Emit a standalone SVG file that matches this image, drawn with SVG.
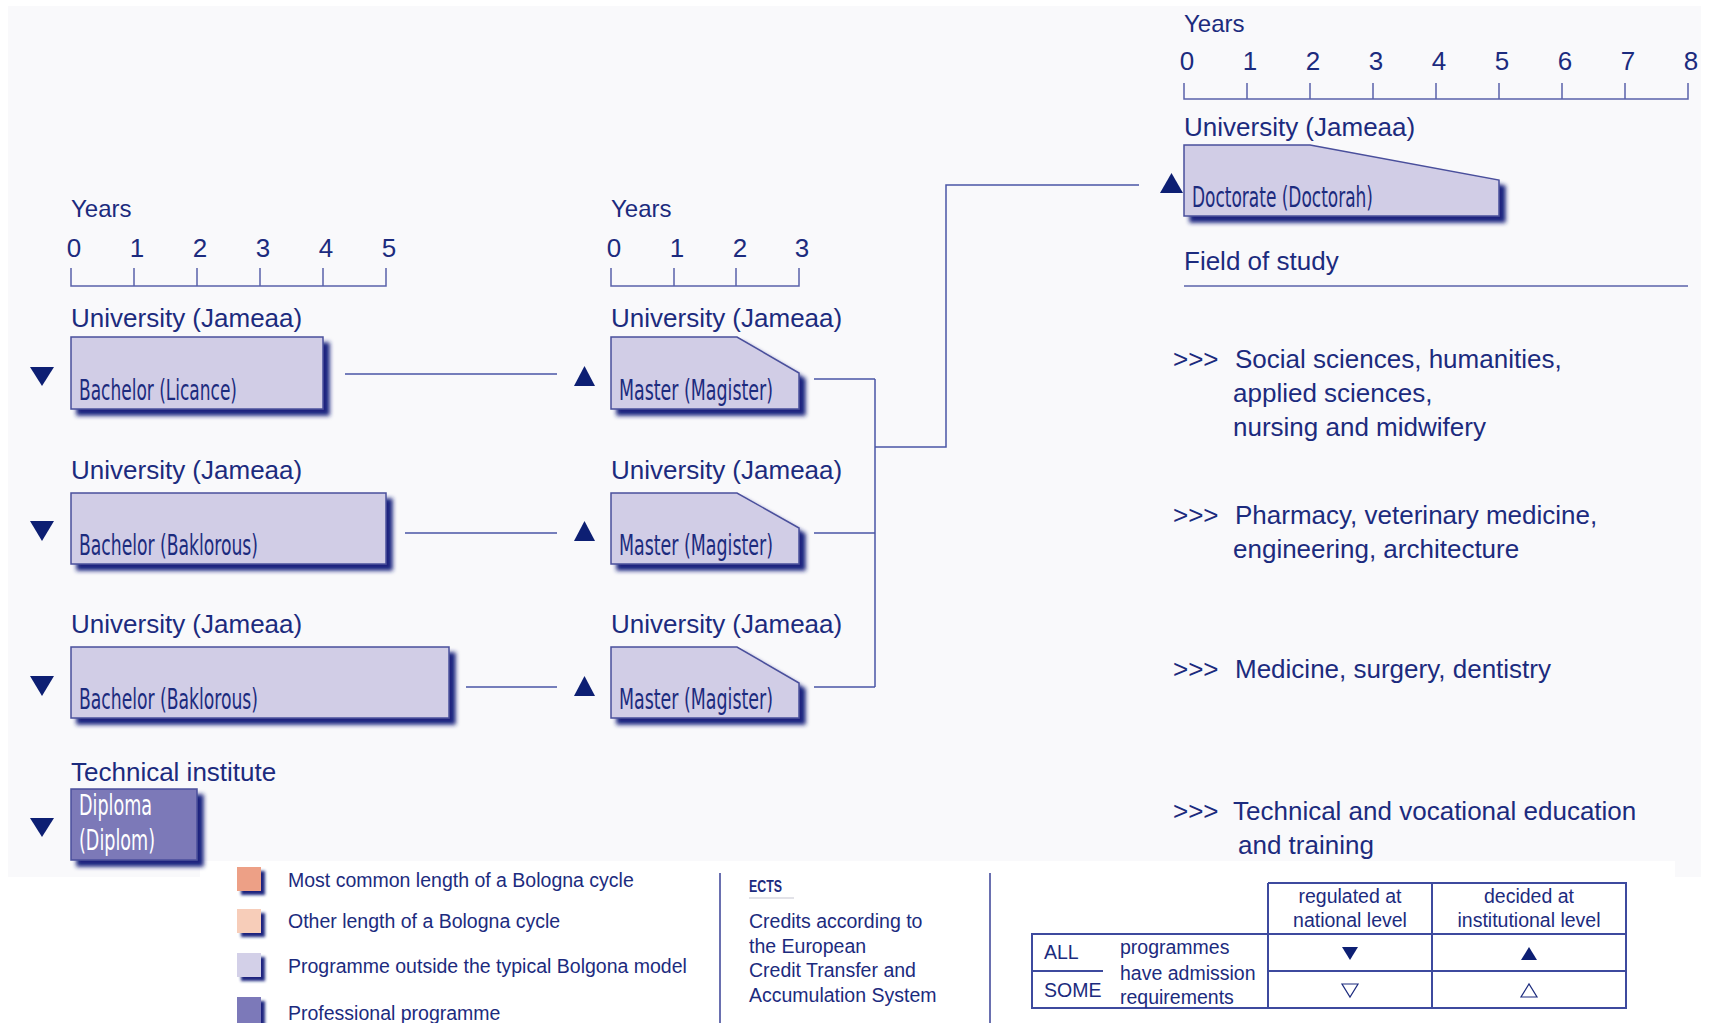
<svg xmlns="http://www.w3.org/2000/svg" width="1709" height="1023" viewBox="0 0 1709 1023">
<defs>
<style>
.t{font-family:"Liberation Sans",Arial,sans-serif;fill:#1c2b7e}
.lg{font-size:26px}
.md{font-size:19.5px}
.nar{font-family:"Liberation Sans Narrow","DejaVu Sans Condensed","Liberation Sans",sans-serif;font-size:28px;fill:#1c2b7e}
.box{fill:#d1cde6;stroke:#4a4f9c;stroke-width:1.5}
.pro{fill:#7c79b8;stroke:#4a4f9c;stroke-width:1.5}
.ax{fill:none;stroke:#5a62aa;stroke-width:1.5}
.cn{fill:none;stroke:#4a55a6;stroke-width:1.5}
.tri{fill:#0d1f73}
.tb{fill:none;stroke:#3d4a9e;stroke-width:2}
.dv{stroke:#6a70b0;stroke-width:2}
</style>
<filter id="sh" x="-10%" y="-10%" width="130%" height="140%">
<feGaussianBlur in="SourceAlpha" stdDeviation="2"/>
<feOffset dx="6" dy="6" result="b"/>
<feFlood flood-color="#1a237e"/>
<feComposite in2="b" operator="in"/>
<feMerge><feMergeNode/><feMergeNode in="SourceGraphic"/></feMerge>
</filter>
<filter id="sh2" x="-20%" y="-20%" width="160%" height="160%">
<feGaussianBlur in="SourceAlpha" stdDeviation="1.5"/>
<feOffset dx="4" dy="4" result="b"/>
<feFlood flood-color="#1a237e"/>
<feComposite in2="b" operator="in"/>
<feMerge><feMergeNode/><feMergeNode in="SourceGraphic"/></feMerge>
</filter>
</defs>
<rect x="0" y="0" width="1709" height="1023" fill="#ffffff"/>
<rect x="8" y="6" width="1693" height="871" fill="#f9f9fb"/>
<rect x="200" y="861" width="1475" height="162" fill="#ffffff"/>

<!-- axes -->
<g id="axis-left">
<text class="t" x="71" y="217" font-size="24">Years</text>
<g class="t lg" text-anchor="middle">
<text x="74" y="257">0</text><text x="137" y="257">1</text><text x="200" y="257">2</text><text x="263" y="257">3</text><text x="326" y="257">4</text><text x="389" y="257">5</text>
</g>
<path class="ax" d="M71,268V286H386V268M134,268V286M197,268V286M260,268V286M323,268V286"/>
</g>
<g id="axis-mid">
<text class="t" x="611" y="217" font-size="24">Years</text>
<g class="t lg" text-anchor="middle">
<text x="614" y="257">0</text><text x="677" y="257">1</text><text x="740" y="257">2</text><text x="802" y="257">3</text>
</g>
<path class="ax" d="M611,268V286H799V268M674,268V286M736,268V286"/>
</g>
<g id="axis-top">
<text class="t" x="1184" y="32" font-size="24">Years</text>
<g class="t lg" text-anchor="middle">
<text x="1187" y="70">0</text><text x="1250" y="70">1</text><text x="1313" y="70">2</text><text x="1376" y="70">3</text><text x="1439" y="70">4</text><text x="1502" y="70">5</text><text x="1565" y="70">6</text><text x="1628" y="70">7</text><text x="1691" y="70">8</text>
</g>
<path class="ax" d="M1184,83V99H1688V83M1247,83V99M1310,83V99M1373,83V99M1436,83V99M1499,83V99M1562,83V99M1625,83V99"/>
</g>

<!-- connectors -->
<g id="connectors">
<path class="cn" d="M345,374H557M405,533H557M466,687H557"/>
<path class="cn" d="M814,379H875M814,533H875M814,687H875M875,379V687M875,447H946V185H1139"/>
</g>

<!-- nodes -->
<g id="bachelor-licance">
<text class="t lg" x="71" y="327">University (Jameaa)</text>
<polygon class="tri" points="30,367 54,367 42,386"/>
<rect class="box" x="71" y="337" width="252" height="72" filter="url(#sh)"/>
<text class="nar" x="79" y="400" textLength="158" lengthAdjust="spacingAndGlyphs">Bachelor (Licance)</text>
</g>
<g id="bachelor-baklorous-5">
<text class="t lg" x="71" y="479">University (Jameaa)</text>
<polygon class="tri" points="30,521 54,521 42,541"/>
<rect class="box" x="71" y="493" width="315" height="71" filter="url(#sh)"/>
<text class="nar" x="79" y="555" textLength="179" lengthAdjust="spacingAndGlyphs">Bachelor (Baklorous)</text>
</g>
<g id="bachelor-baklorous-6">
<text class="t lg" x="71" y="633">University (Jameaa)</text>
<polygon class="tri" points="30,676 54,676 42,696"/>
<rect class="box" x="71" y="647" width="378" height="71" filter="url(#sh)"/>
<text class="nar" x="79" y="709" textLength="179" lengthAdjust="spacingAndGlyphs">Bachelor (Baklorous)</text>
</g>
<g id="diploma">
<text class="t lg" x="71" y="781">Technical institute</text>
<polygon class="tri" points="30,818 54,818 42,837"/>
<rect class="pro" x="71" y="789" width="126" height="71" filter="url(#sh)"/>
<text class="nar" x="79" y="815" style="fill:#ffffff" textLength="73" lengthAdjust="spacingAndGlyphs">Diploma</text>
<text class="nar" x="79" y="850" style="fill:#ffffff" textLength="76" lengthAdjust="spacingAndGlyphs">(Diplom)</text>
</g>
<g id="master-1">
<text class="t lg" x="611" y="327">University (Jameaa)</text>
<polygon class="tri" points="574,386 595,386 584.5,366"/>
<polygon class="box" points="611,337 737,337 799,373 799,409 611,409" filter="url(#sh)"/>
<text class="nar" x="619" y="400" textLength="154" lengthAdjust="spacingAndGlyphs">Master (Magister)</text>
</g>
<g id="master-2">
<text class="t lg" x="611" y="479">University (Jameaa)</text>
<polygon class="tri" points="574,541 595,541 584.5,521"/>
<polygon class="box" points="611,493 737,493 799,528 799,564 611,564" filter="url(#sh)"/>
<text class="nar" x="619" y="555" textLength="154" lengthAdjust="spacingAndGlyphs">Master (Magister)</text>
</g>
<g id="master-3">
<text class="t lg" x="611" y="633">University (Jameaa)</text>
<polygon class="tri" points="574,696 595,696 584.5,676"/>
<polygon class="box" points="611,647 737,647 799,683 799,718 611,718" filter="url(#sh)"/>
<text class="nar" x="619" y="709" textLength="154" lengthAdjust="spacingAndGlyphs">Master (Magister)</text>
</g>
<g id="doctorate">
<text class="t lg" x="1184" y="136">University (Jameaa)</text>
<polygon class="tri" points="1160,193 1183,193 1171.5,173"/>
<polygon class="box" points="1184,145 1310,145 1499,180 1499,216 1184,216" filter="url(#sh)"/>
<text class="nar" x="1192" y="207" textLength="181" lengthAdjust="spacingAndGlyphs">Doctorate (Doctorah)</text>
</g>

<!-- fields -->
<g id="fields" class="t lg">
<text x="1184" y="270">Field of study</text>
<line x1="1184" y1="286" x2="1688" y2="286" stroke="#5a62aa" stroke-width="1.5"/>
<text x="1173" y="368">&gt;&gt;&gt;</text>
<text x="1235" y="368">Social sciences, humanities,</text>
<text x="1233" y="402">applied sciences,</text>
<text x="1233" y="436">nursing and midwifery</text>
<text x="1173" y="524">&gt;&gt;&gt;</text>
<text x="1235" y="524">Pharmacy, veterinary medicine,</text>
<text x="1233" y="558">engineering, architecture</text>
<text x="1173" y="678">&gt;&gt;&gt;</text>
<text x="1235" y="678">Medicine, surgery, dentistry</text>
<text x="1173" y="820">&gt;&gt;&gt;</text>
<text x="1233" y="820">Technical and vocational education</text>
<text x="1238" y="854">and training</text>
</g>

<!-- legend -->
<g id="legend-colours">
<rect x="237" y="867" width="24" height="24" fill="#eda086" filter="url(#sh2)"/>
<rect x="237" y="909" width="24" height="24" fill="#f7cdb9" filter="url(#sh2)"/>
<rect x="237" y="953" width="24" height="24" fill="#d3d0e8" filter="url(#sh2)"/>
<rect x="237" y="997" width="24" height="26" fill="#7c79b9" filter="url(#sh2)"/>
<g class="t md">
<text x="288" y="887">Most common length of a Bologna cycle</text>
<text x="288" y="928">Other length of a Bologna cycle</text>
<text x="288" y="973">Programme outside the typical Bolgona model</text>
<text x="288" y="1020">Professional programme</text>
</g>
</g>
<line class="dv" x1="720" y1="873" x2="720" y2="1023"/>
<g id="legend-ects">
<text class="t" x="749" y="892" font-size="17" font-weight="bold" textLength="33" lengthAdjust="spacingAndGlyphs">ECTS</text>
<line x1="749" y1="898" x2="794" y2="898" stroke="#d8d8e0" stroke-width="1.5"/>
<g class="t md">
<text x="749" y="928">Credits according to</text>
<text x="749" y="953">the European</text>
<text x="749" y="977">Credit Transfer and</text>
<text x="749" y="1002">Accumulation System</text>
</g>
</g>
<line class="dv" x1="990" y1="873" x2="990" y2="1023"/>
<g id="legend-admission">
<path class="tb" d="M1268,883H1626V1008H1032V934H1626M1268,883V1008M1432,883V1008M1268,971H1626M1032,971H1103"/>
<g class="t md" text-anchor="middle">
<text x="1350" y="903">regulated at</text>
<text x="1350" y="927">national level</text>
<text x="1529" y="903">decided at</text>
<text x="1529" y="927">institutional level</text>
</g>
<g class="t md">
<text x="1044" y="959">ALL</text>
<text x="1044" y="997">SOME</text>
<text x="1120" y="954">programmes</text>
<text x="1120" y="980">have admission</text>
<text x="1120" y="1004">requirements</text>
</g>
<polygon class="tri" points="1342,947 1358,947 1350,960"/>
<polygon class="tri" points="1521,960 1537,960 1529,947"/>
<polygon points="1342,984 1358,984 1350,997" fill="none" stroke="#1c2b7e" stroke-width="1.2"/>
<polygon points="1521,997 1537,997 1529,984" fill="none" stroke="#1c2b7e" stroke-width="1.2"/>
</g>
</svg>
